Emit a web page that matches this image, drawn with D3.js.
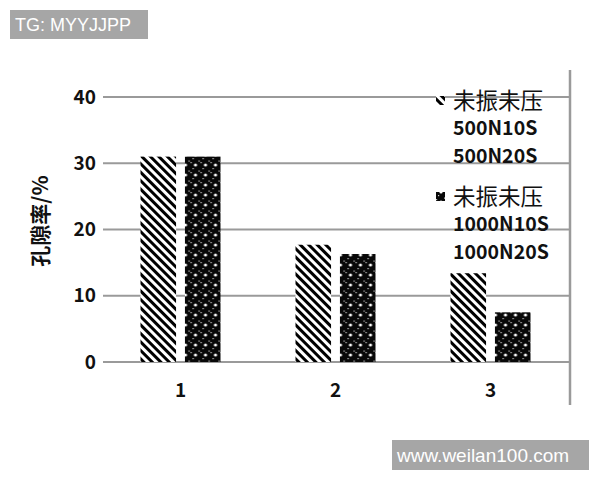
<!DOCTYPE html>
<html>
<head>
<meta charset="utf-8">
<script src="https://cdn.jsdelivr.net/npm/d3@7"></script>
<style>
  body { margin: 0; background: #fff; }
  svg { display: block; }
</style>
</head>
<body>
<svg id="chart"></svg>
<script>
// values
const categories = ["1", "2", "3"];
const series500 = [31, 17.7, 13.4];
const series1000 = [31, 16.3, 7.5];
const yTicks = [0, 10, 20, 30, 40];
const legendLines = [
    ["未振未压", "500N10S", "500N20S"],
    ["未振未压", "1000N10S", "1000N20S"]
];

const W = 600, H = 480;
const margin = { top: 70, left: 103 };
const font = "'Noto Sans CJK SC', 'Liberation Sans', sans-serif";

const svg = d3.select("#chart").attr("width", W).attr("height", H);
const defs = svg.append("defs");

// diagonal hatch
const hatch = defs.append("pattern")
    .attr("id", "hatch")
    .attr("patternUnits", "userSpaceOnUse")
    .attr("width", 6).attr("height", 6)
    .attr("patternTransform", "rotate(-45)");
hatch.append("rect").attr("width", 6).attr("height", 6).attr("fill", "#fff");
hatch.append("rect").attr("x", 0).attr("width", 3).attr("height", 6).attr("fill", "#000");

// dense black with white dots
const dots = defs.append("pattern")
    .attr("id", "dots")
    .attr("patternUnits", "userSpaceOnUse")
    .attr("width", 10).attr("height", 10);
dots.append("rect").attr("width", 10).attr("height", 10).attr("fill", "#080808");
dots.append("circle").attr("cx", 5).attr("cy", 5).attr("r", 1.6).attr("fill", "#fff");
dots.append("rect").attr("x", 0).attr("y", 2).attr("width", 1.2).attr("height", 1.2).attr("fill", "#ccc");
dots.append("rect").attr("x", 2).attr("y", 8).attr("width", 1.2).attr("height", 1.2).attr("fill", "#ccc");
dots.append("rect").attr("x", 8).attr("y", 0.5).attr("width", 1.2).attr("height", 1.2).attr("fill", "#ccc");

const fills = ["url(#hatch)", "url(#dots)"];

const x = d3.scaleBand().domain(categories).range([0, 465]);
const xInner = d3.scaleBand().domain([0, 1]).range([-40, 40]).paddingInner(0.2);
const y = d3.scaleLinear().domain([0, 40]).range([292, 27]);

const g = svg.append("g").attr("transform", `translate(${margin.left},${margin.top})`);

// gridlines
g.append("g").selectAll("line")
    .data(yTicks)
    .join("line")
    .attr("x1", 0).attr("x2", 467)
    .attr("y1", d => y(d)).attr("y2", d => y(d))
    .attr("stroke", "#9a9a9a")
    .attr("stroke-width", 2);

// right frame line
g.append("line")
    .attr("x1", 467).attr("x2", 467)
    .attr("y1", 0).attr("y2", 335)
    .attr("stroke", "#9a9a9a")
    .attr("stroke-width", 2.5);

// bars
const data = categories.map((c, i) => ({ c, vals: [series500[i], series1000[i]] }));
g.append("g").selectAll("g")
    .data(data)
    .join("g")
    .attr("transform", d => `translate(${x(d.c) + x.bandwidth() / 2},0)`)
    .selectAll("rect")
    .data(d => d.vals)
    .join("rect")
    .attr("x", (d, j) => xInner(j))
    .attr("width", xInner.bandwidth())
    .attr("y", d => y(d))
    .attr("height", d => y(0) - y(d))
    .attr("fill", (d, j) => fills[j]);

// y axis labels
const yAxis = d3.axisLeft(y).tickValues(yTicks).tickSize(0).tickPadding(7);
g.append("g")
    .call(yAxis)
    .call(s => s.select(".domain").remove())
    .selectAll("text")
    .attr("font-family", font)
    .attr("font-size", 19)
    .attr("font-weight", "bold")
    .attr("fill", "#111");

// x axis labels
const xAxis = d3.axisBottom(x).tickSize(0).tickPadding(22);
g.append("g")
    .attr("transform", `translate(0,${y(0)})`)
    .call(xAxis)
    .call(s => s.select(".domain").remove())
    .selectAll("text")
    .attr("font-family", font)
    .attr("font-size", 19)
    .attr("font-weight", "bold")
    .attr("fill", "#111");

// y title
svg.append("text")
    .attr("transform", "translate(41,221) rotate(-90)")
    .attr("text-anchor", "middle")
    .attr("dy", "0.35em")
    .attr("font-family", font)
    .attr("font-size", 21)
    .attr("font-weight", "bold")
    .attr("fill", "#111")
    .text("孔隙率/%");

// legend
const legend = svg.append("g").attr("transform", "translate(436,0)");
const legendTop = [101, 197];
legendLines.forEach((lines, i) => {
    const lg = legend.append("g").attr("transform", `translate(0,${legendTop[i]})`);
    lg.append("rect")
        .attr("x", 0).attr("y", -5)
        .attr("width", 9).attr("height", 9)
        .attr("fill", fills[i]);
    lg.selectAll("text")
        .data(lines)
        .join("text")
        .attr("x", 17)
        .attr("y", (d, k) => k * 27.5)
        .attr("dy", "0.35em")
        .attr("font-family", font)
        .attr("font-size", (d, k) => k === 0 ? 22.5 : 19.5)
        .attr("font-weight", (d, k) => k === 0 ? "normal" : "bold")
        .attr("fill", "#111")
        .text(d => d);
});

// watermarks
function badge(bx, by, bw, bh, label, size) {
    svg.append("rect").attr("x", bx).attr("y", by).attr("width", bw).attr("height", bh).attr("fill", "#a6a6a6");
    svg.append("text")
        .attr("x", bx + 5).attr("y", by + bh / 2)
        .attr("dy", "0.36em")
        .attr("font-family", "'Liberation Sans', Arial, sans-serif")
        .attr("font-size", size)
        .attr("fill", "#fff")
        .text(label);
}
badge(10, 10, 138, 29, "TG: MYYJJPP", 18);
badge(392, 440, 197, 30, "www.weilan100.com", 19);
</script>
</body>
</html>
